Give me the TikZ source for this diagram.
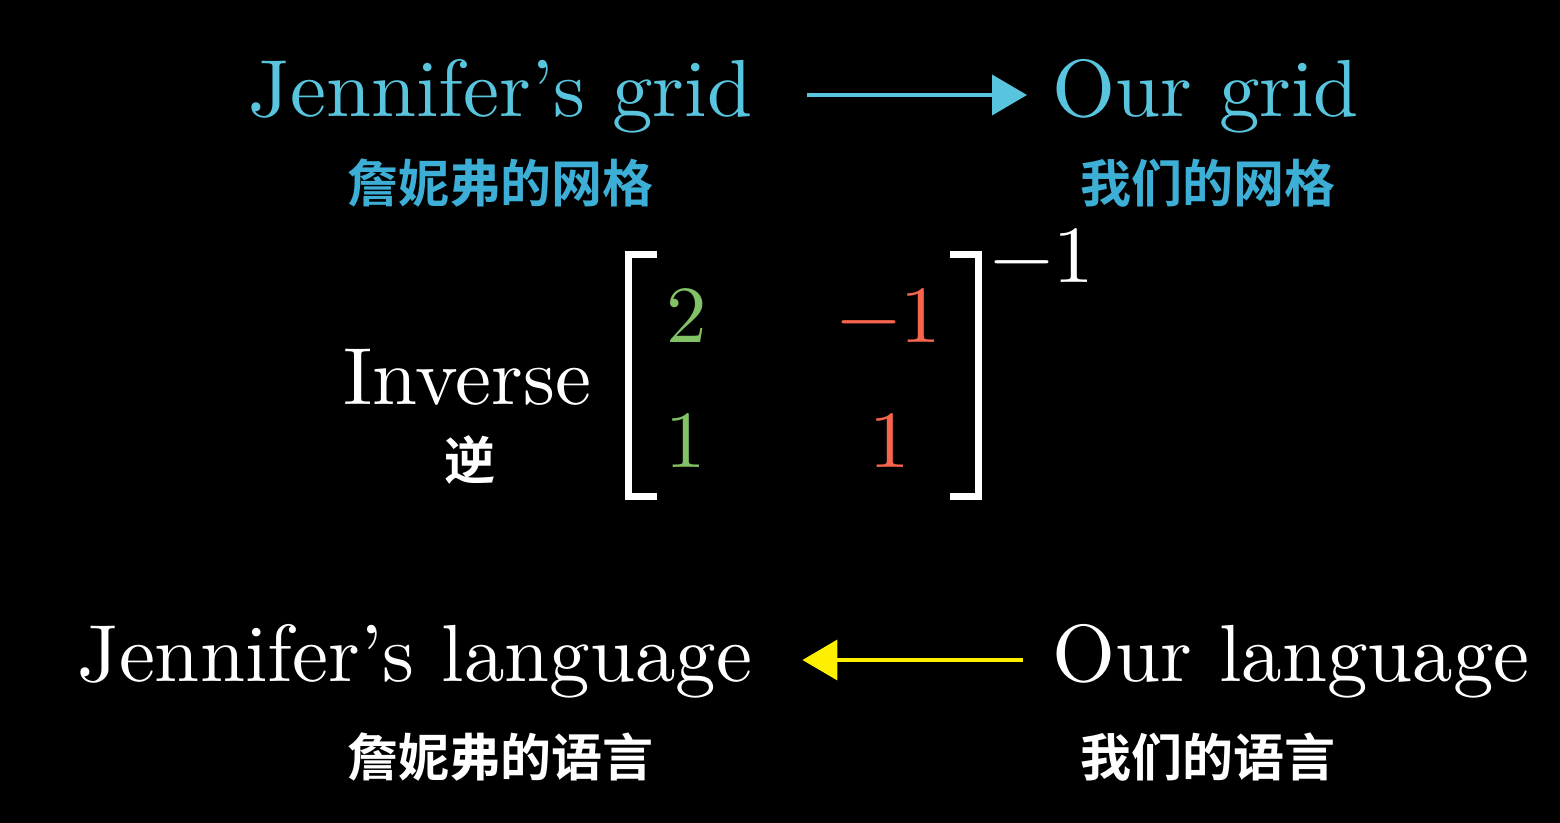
\documentclass[tikz,border=0pt]{standalone}
\usepackage{fontspec}
\setmainfont{lmroman10-regular.otf}
\newfontfamily\cjk{Noto Sans CJK SC}[BoldFont={Noto Sans CJK SC Bold}]
\usetikzlibrary{arrows.meta}
\definecolor{mblue}{HTML}{58C4DD}
\definecolor{cjkblue}{HTML}{3DAFD6}
\definecolor{mgreen}{HTML}{83C167}
\definecolor{mred}{HTML}{F8644E}
\definecolor{myellow}{HTML}{FFF000}
\tikzset{
  big/.style={inner sep=0pt, font=\fontsize{40.5}{48}\selectfont},
  cn/.style={inner sep=0pt, font=\cjk\bfseries\fontsize{25.5}{29}\selectfont},
  arr/.style={line width=2pt, -{Triangle[length=17.5pt,width=20pt]}},
  brk/.style={white, line width=3.5pt, line join=miter},
}
\begin{document}
\begin{tikzpicture}[x=0.5pt,y=-0.5pt]
\fill[black] (0,0) rectangle (1560,823);
\useasboundingbox (0,0) rectangle (1560,823);
% top row
\node[big, mblue, anchor=base west] (jg) at (248,117) {Jennifer’s grid};
\node[big, mblue, anchor=base west] (og) at (1052,117) {Our grid};
\node[cn, cjkblue] (jgc) at (500,183) {詹妮弗的网格};
\node[cn, cjkblue] (ogc) at (1208,183) {我们的网格};
\draw[arr, mblue] ([xshift=27pt,yshift=11pt]jg.base east) -- ([xshift=-12.5pt,yshift=11pt]og.base west);
% matrix
\node[big, white, anchor=base west] (inv) at (343,405) {Inverse};
\node[cn, white] (invc) at (470,460) {逆};
\draw[brk] (657,255) -- (628.5,255) -- (628.5,497) -- (657,497);
\draw[brk] (950,255) -- (978.5,255) -- (978.5,497) -- (950,497);
\node[big, mgreen, anchor=base] (a11) at (687,343) {2};
\node[big, mred, anchor=base] (a12) at (889.5,343) {−1};
\node[big, mgreen, anchor=base] (a21) at (686,468) {1};
\node[big, mred, anchor=base] (a22) at (889.5,468) {1};
\node[big, white, anchor=base] (sup) at (1042,283) {−1};
% bottom row
\node[big, white, anchor=base west] (jl) at (77,682) {Jennifer’s language};
\node[big, white, anchor=base west] (ol) at (1052,682) {Our language};
\node[cn, white] (jlc) at (500,757) {詹妮弗的语言};
\node[cn, white] (olc) at (1208,757) {我们的语言};
\draw[arr, myellow] ([xshift=-14.5pt,yshift=11pt]ol.base west) -- ([xshift=25pt,yshift=11pt]jl.base east);
\end{tikzpicture}
\end{document}
